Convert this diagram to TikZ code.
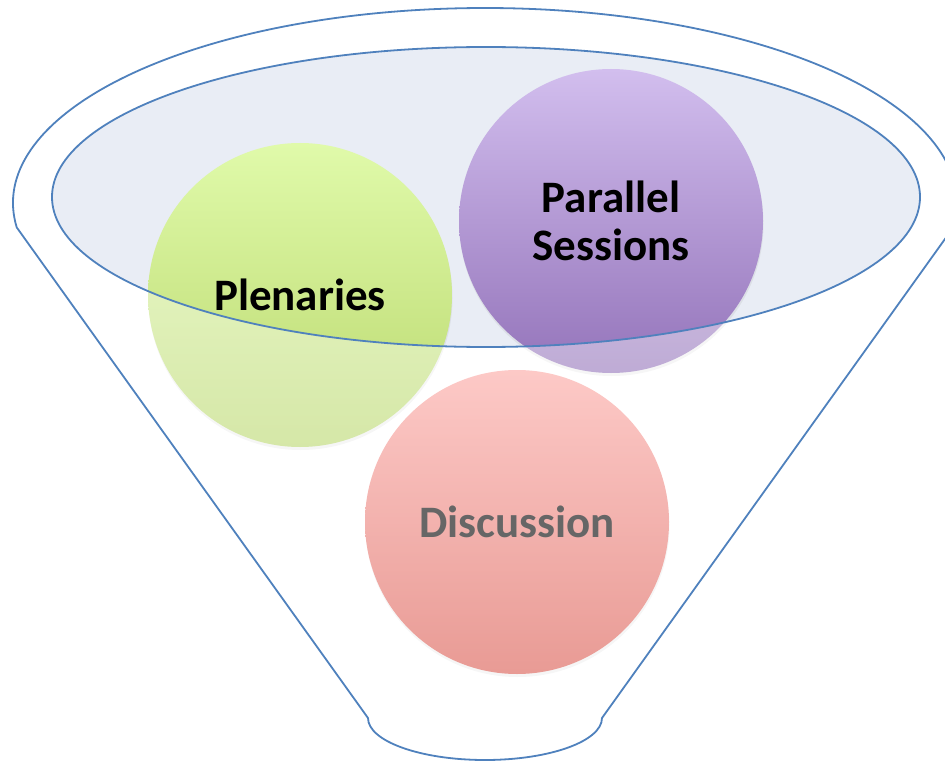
\documentclass[tikz,border=0pt]{standalone}
\usepackage{fontspec}
\setmainfont{Carlito}
\usetikzlibrary{shadows}

\definecolor{funnelblue}{RGB}{79,129,189}
\definecolor{rimfill}{RGB}{233,237,245}

\newcommand{\funnelpath}{(485,203) ++(172.8:472 and 195) coordinate (lk)
  arc[start angle=172.8, end angle=367.2, x radius=472, y radius=195] coordinate (rk)
  -- (602,718) coordinate (rb)
  arc[start angle=0, end angle=180, x radius=117, y radius=42] coordinate (lb)
  -- cycle}

\begin{document}
\begin{tikzpicture}[x=1pt, y=-1pt,
    session/.style ={circle, minimum size=304pt, inner sep=0pt, align=center,
      font=\bfseries\fontsize{45}{48}\selectfont,
      drop shadow={shadow xshift=0.5pt, shadow yshift=-3pt, opacity=0.12}},
    funnel/.style ={draw=funnelblue, line width=1.8pt, line join=round}]
   \useasboundingbox (0,0) rectangle (945,762);
   \clip (0,0) rectangle (945,762);

   % top of the funnel
   \fill[rimfill] (486,197) ellipse [x radius=434, y radius=150];

   \node[session, top color={rgb,255:red,224;green,250;blue,170},
     bottom color={rgb,255:red,186;green,216;blue,110}] (plen) at (300,295) {Plenaries};
   \node[session, top color={rgb,255:red,210;green,190;blue,238},
     bottom color={rgb,255:red,148;green,116;blue,186}] (par) at (611,221) {Parallel\\Sessions};
   \node[session, top color={rgb,255:red,252;green,166;blue,162},
     bottom color={rgb,255:red,218;green,88;blue,78}] (disc) at (517,522) {Discussion};

   % body of the funnel washes out what lies below the rim
   \fill[white, fill opacity=0.4, even odd rule] \funnelpath
     (486,197) ellipse [x radius=434, y radius=150];

   \draw[funnel] \funnelpath;
   \draw[funnel] (486,197) ellipse [x radius=434, y radius=150];
 \end{tikzpicture}
\end{document}
